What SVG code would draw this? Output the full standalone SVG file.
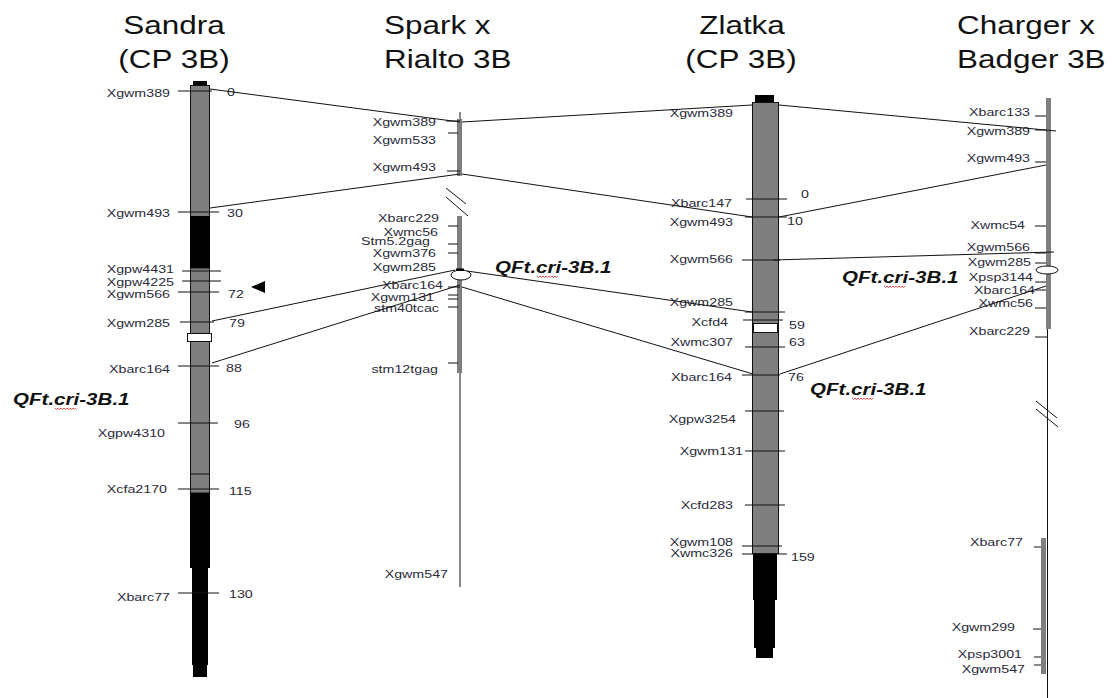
<svg xmlns="http://www.w3.org/2000/svg" width="1114" height="698" viewBox="0 0 1114 698">
<style>
text{font-family:"Liberation Sans",Arial,sans-serif}
.lb{font-size:11.5px;fill:#2b2b3a}
.e{text-anchor:end}
.m{text-anchor:middle}
.tt{font-size:26px;fill:#111}
.q{font-size:17px;font-weight:bold;font-style:italic;fill:#111}
.tk{stroke:#111;stroke-width:1}
.gb{fill:#7f7f7f;stroke:#111;stroke-width:1}
.gt{fill:#7f7f7f}
.bk{fill:#000}
.cn line{stroke:#111;stroke-width:1}
.sq{fill:none;stroke:#e02020;stroke-width:0.8}
</style>
<defs>
<path id="sq" class="sq" d="M0,0 l1.5,1.5 1.5,-1.5 1.5,1.5 1.5,-1.5 1.5,1.5 1.5,-1.5 1.5,1.5 1.5,-1.5 1.5,1.5 1.5,-1.5 1.5,1.5 1.5,-1.5 1.5,1.5 1.5,-1.5"/>
</defs>
<rect width="1114" height="698" fill="#fff"/>

<g id="chr-sandra">
<text class="tt m" transform="translate(174,34) scale(1.21,1)">Sandra</text>
<text class="tt m" transform="translate(174,68) scale(1.21,1)">(CP 3B)</text>
<rect class="bk" x="193" y="81" width="14" height="5"/>
<rect class="gb" x="190.5" y="85.5" width="19" height="131"/>
<rect class="bk" x="190" y="216" width="20" height="52"/>
<rect class="gb" x="190.5" y="268" width="19" height="225"/>
<line class="tk" x1="190" y1="474" x2="210" y2="474"/>
<rect class="bk" x="190" y="493" width="20" height="75"/>
<rect class="bk" x="192" y="568" width="16" height="97"/>
<rect class="bk" x="193" y="665" width="14" height="12"/>
<rect x="187.5" y="333.5" width="24" height="8" fill="#fff" stroke="#111"/>
<line class="tk" x1="178" y1="91" x2="212" y2="91"/>
<line class="tk" x1="178" y1="212" x2="219" y2="212"/>
<line class="tk" x1="182" y1="271" x2="221" y2="271"/>
<line class="tk" x1="182" y1="281" x2="221" y2="281"/>
<line class="tk" x1="178" y1="292" x2="219" y2="292"/>
<line class="tk" x1="180" y1="322" x2="214" y2="322"/>
<line class="tk" x1="178" y1="366" x2="219" y2="366"/>
<line class="tk" x1="178" y1="423" x2="218" y2="423"/>
<line class="tk" x1="178" y1="489" x2="219" y2="489"/>
<line class="tk" x1="178" y1="593" x2="219" y2="593"/>
<polygon points="251,287 265,281 265,293" fill="#000"/>
<text class="lb e" transform="translate(170,97) scale(1.24,1)">Xgwm389</text>
<text class="lb e" transform="translate(170,217) scale(1.24,1)">Xgwm493</text>
<text class="lb e" transform="translate(174,273) scale(1.24,1)">Xgpw4431</text>
<text class="lb e" transform="translate(174,286) scale(1.24,1)">Xgpw4225</text>
<text class="lb e" transform="translate(170,298) scale(1.24,1)">Xgwm566</text>
<text class="lb e" transform="translate(170,327) scale(1.24,1)">Xgwm285</text>
<text class="lb e" transform="translate(170,373) scale(1.24,1)">Xbarc164</text>
<text class="lb e" transform="translate(165,437) scale(1.24,1)">Xgpw4310</text>
<text class="lb e" transform="translate(167,493) scale(1.24,1)">Xcfa2170</text>
<text class="lb e" transform="translate(170,601) scale(1.24,1)">Xbarc77</text>
<text class="lb" transform="translate(227,96) scale(1.24,1)">0</text>
<text class="lb" transform="translate(227,217) scale(1.24,1)">30</text>
<text class="lb" transform="translate(228,298) scale(1.24,1)">72</text>
<text class="lb" transform="translate(229,327) scale(1.24,1)">79</text>
<text class="lb" transform="translate(226,372) scale(1.24,1)">88</text>
<text class="lb" transform="translate(234,428) scale(1.24,1)">96</text>
<text class="lb" transform="translate(229,495) scale(1.24,1)">115</text>
<text class="lb" transform="translate(229,598) scale(1.24,1)">130</text>
<text class="q" transform="translate(13,405) scale(1.21,1)">QFt.cri-3B.1</text>
<use href="#sq" x="55" y="408"/>
</g>

<g id="chr-spark">
<text class="tt" transform="translate(384,34) scale(1.21,1)">Spark x</text>
<text class="tt" transform="translate(384,68) scale(1.21,1)">Rialto 3B</text>
<line class="tk" x1="460" y1="112" x2="460" y2="176"/>
<line class="tk" x1="460" y1="216" x2="460" y2="587"/>
<rect class="gt" x="457" y="119" width="5" height="57"/>
<rect class="gt" x="457" y="216" width="5" height="157"/>
<line class="tk" x1="446" y1="188" x2="466" y2="204"/>
<line class="tk" x1="446" y1="197" x2="468" y2="216"/>
<line class="tk" x1="446" y1="121" x2="460" y2="121"/>
<line class="tk" x1="448" y1="133" x2="458" y2="133"/>
<line class="tk" x1="447" y1="171" x2="460" y2="171"/>
<line class="tk" x1="448" y1="226" x2="458" y2="226"/>
<line class="tk" x1="448" y1="244" x2="458" y2="244"/>
<line class="tk" x1="448" y1="253" x2="458" y2="253"/>
<line class="tk" x1="448" y1="287" x2="460" y2="287"/>
<line class="tk" x1="448" y1="295" x2="458" y2="295"/>
<line class="tk" x1="448" y1="299" x2="458" y2="299"/>
<line class="tk" x1="448" y1="307" x2="458" y2="307"/>
<line class="tk" x1="448" y1="363" x2="458" y2="363"/>
<ellipse cx="461" cy="275" rx="10" ry="5" fill="#fff" stroke="#111"/>
<rect class="bk" x="456" y="268.5" width="8" height="2.5"/>
<text class="lb e" transform="translate(436,125.5) scale(1.24,1)">Xgwm389</text>
<text class="lb e" transform="translate(436,144) scale(1.24,1)">Xgwm533</text>
<text class="lb e" transform="translate(436,171) scale(1.24,1)">Xgwm493</text>
<text class="lb e" transform="translate(439,221.5) scale(1.24,1)">Xbarc229</text>
<text class="lb e" transform="translate(438,236) scale(1.24,1)">Xwmc56</text>
<text class="lb e" transform="translate(430,245) scale(1.24,1)">Stm5.2gag</text>
<text class="lb e" transform="translate(436,257) scale(1.24,1)">Xgwm376</text>
<text class="lb e" transform="translate(436,271) scale(1.24,1)">Xgwm285</text>
<text class="lb e" transform="translate(443,288.5) scale(1.24,1)">Xbarc164</text>
<text class="lb e" transform="translate(434,301) scale(1.24,1)">Xgwm131</text>
<text class="lb e" transform="translate(439,311.5) scale(1.24,1)">stm40tcac</text>
<text class="lb e" transform="translate(438,372.5) scale(1.24,1)">stm12tgag</text>
<text class="lb e" transform="translate(448,578) scale(1.24,1)">Xgwm547</text>
<text class="q" transform="translate(495,273) scale(1.21,1)">QFt.cri-3B.1</text>
<use href="#sq" x="537" y="276"/>
</g>

<g id="chr-zlatka">
<text class="tt m" transform="translate(742,34) scale(1.21,1)">Zlatka</text>
<text class="tt m" transform="translate(741,68) scale(1.21,1)">(CP 3B)</text>
<rect class="bk" x="755" y="95" width="19" height="8"/>
<rect class="gb" x="752.5" y="102.5" width="26" height="451"/>
<rect class="bk" x="753" y="554" width="24" height="46"/>
<rect class="bk" x="754" y="600" width="21" height="48"/>
<rect class="bk" x="756" y="648" width="17" height="10"/>
<rect x="753.5" y="323.5" width="24" height="9" fill="#fff" stroke="#111"/>
<line class="tk" x1="746" y1="199" x2="787" y2="199"/>
<line class="tk" x1="745" y1="217" x2="787" y2="217"/>
<line class="tk" x1="742" y1="260" x2="780" y2="260"/>
<line class="tk" x1="745" y1="312" x2="785" y2="312"/>
<line class="tk" x1="743" y1="320" x2="783" y2="320"/>
<line class="tk" x1="745" y1="347" x2="785" y2="347"/>
<line class="tk" x1="742" y1="375" x2="780" y2="375"/>
<line class="tk" x1="745" y1="411" x2="784" y2="411"/>
<line class="tk" x1="745" y1="451" x2="785" y2="451"/>
<line class="tk" x1="745" y1="505" x2="785" y2="505"/>
<line class="tk" x1="742" y1="546" x2="782" y2="546"/>
<line class="tk" x1="742" y1="554" x2="787" y2="554"/>
<text class="lb e" transform="translate(733,117) scale(1.24,1)">Xgwm389</text>
<text class="lb e" transform="translate(732,207) scale(1.24,1)">Xbarc147</text>
<text class="lb e" transform="translate(733,226) scale(1.24,1)">Xgwm493</text>
<text class="lb e" transform="translate(733,263) scale(1.24,1)">Xgwm566</text>
<text class="lb e" transform="translate(733,306) scale(1.24,1)">Xgwm285</text>
<text class="lb e" transform="translate(728,326) scale(1.24,1)">Xcfd4</text>
<text class="lb e" transform="translate(733,346) scale(1.24,1)">Xwmc307</text>
<text class="lb e" transform="translate(732,381) scale(1.24,1)">Xbarc164</text>
<text class="lb e" transform="translate(736,423) scale(1.24,1)">Xgpw3254</text>
<text class="lb e" transform="translate(743,455) scale(1.24,1)">Xgwm131</text>
<text class="lb e" transform="translate(733,509) scale(1.24,1)">Xcfd283</text>
<text class="lb e" transform="translate(733,546) scale(1.24,1)">Xgwm108</text>
<text class="lb e" transform="translate(733,557) scale(1.24,1)">Xwmc326</text>
<text class="lb" transform="translate(801,198) scale(1.24,1)">0</text>
<text class="lb" transform="translate(787,225) scale(1.24,1)">10</text>
<text class="lb" transform="translate(789,329) scale(1.24,1)">59</text>
<text class="lb" transform="translate(789,346) scale(1.24,1)">63</text>
<text class="lb" transform="translate(788,381) scale(1.24,1)">76</text>
<text class="lb" transform="translate(791,561) scale(1.24,1)">159</text>
<text class="q" transform="translate(842,283) scale(1.21,1)">QFt.cri-3B.1</text>
<use href="#sq" x="884" y="286"/>
<text class="q" transform="translate(810,395) scale(1.21,1)">QFt.cri-3B.1</text>
<use href="#sq" x="852" y="398"/>
</g>

<g id="chr-charger">
<text class="tt" transform="translate(957,34) scale(1.21,1)">Charger x</text>
<text class="tt" transform="translate(957,68) scale(1.21,1)">Badger 3B</text>
<line class="tk" x1="1047.5" y1="329" x2="1047.5" y2="698"/>
<rect class="gt" x="1046" y="98" width="5" height="231"/>
<rect class="gt" x="1041" y="538" width="5" height="136"/>
<line class="tk" x1="1036" y1="401" x2="1057" y2="418"/>
<line class="tk" x1="1036" y1="409" x2="1058" y2="427"/>
<line class="tk" x1="1035" y1="116" x2="1046" y2="116"/>
<line class="tk" x1="1035" y1="130" x2="1046" y2="130"/>
<line class="tk" x1="1035" y1="162" x2="1046" y2="162"/>
<line class="tk" x1="1035" y1="226" x2="1046" y2="226"/>
<line class="tk" x1="1035" y1="253" x2="1046" y2="253"/>
<line class="tk" x1="1035" y1="263" x2="1046" y2="263"/>
<line class="tk" x1="1035" y1="282" x2="1046" y2="282"/>
<line class="tk" x1="1035" y1="290" x2="1046" y2="290"/>
<line class="tk" x1="1035" y1="308" x2="1046" y2="308"/>
<line class="tk" x1="1035" y1="337" x2="1047" y2="337"/>
<line class="tk" x1="1034" y1="547" x2="1041" y2="547"/>
<line class="tk" x1="1033" y1="629" x2="1041" y2="629"/>
<line class="tk" x1="1034" y1="657" x2="1041" y2="657"/>
<line class="tk" x1="1034" y1="665" x2="1041" y2="665"/>
<ellipse cx="1047" cy="270" rx="11" ry="4" fill="#fff" stroke="#111"/>
<text class="lb e" transform="translate(1030,116) scale(1.24,1)">Xbarc133</text>
<text class="lb e" transform="translate(1030,135) scale(1.24,1)">Xgwm389</text>
<text class="lb e" transform="translate(1030,162) scale(1.24,1)">Xgwm493</text>
<text class="lb e" transform="translate(1025,229) scale(1.24,1)">Xwmc54</text>
<text class="lb e" transform="translate(1030,251) scale(1.24,1)">Xgwm566</text>
<text class="lb e" transform="translate(1031,266) scale(1.24,1)">Xgwm285</text>
<text class="lb e" transform="translate(1033,281) scale(1.24,1)">Xpsp3144</text>
<text class="lb e" transform="translate(1035,294) scale(1.24,1)">Xbarc164</text>
<text class="lb e" transform="translate(1033,307) scale(1.24,1)">Xwmc56</text>
<text class="lb e" transform="translate(1030,335) scale(1.24,1)">Xbarc229</text>
<text class="lb e" transform="translate(1023,546) scale(1.24,1)">Xbarc77</text>
<text class="lb e" transform="translate(1015,631) scale(1.24,1)">Xgwm299</text>
<text class="lb e" transform="translate(1022,658) scale(1.24,1)">Xpsp3001</text>
<text class="lb e" transform="translate(1025,673) scale(1.24,1)">Xgwm547</text>
</g>

<g id="connectors" class="cn">
<line x1="210" y1="89" x2="460" y2="122"/>
<line x1="462" y1="122" x2="752" y2="105"/>
<line x1="779" y1="105" x2="1056" y2="131"/>
<line x1="210" y1="208" x2="460" y2="174"/>
<line x1="462" y1="174" x2="752" y2="217"/>
<line x1="779" y1="217" x2="1046" y2="165"/>
<line x1="773" y1="260" x2="1054" y2="252"/>
<line x1="212" y1="321" x2="455" y2="270"/>
<line x1="467" y1="271" x2="752" y2="312"/>
<line x1="212" y1="363" x2="460" y2="285"/>
<line x1="462" y1="287" x2="753" y2="374"/>
<line x1="780" y1="374" x2="1046" y2="286"/>
</g>
</svg>
